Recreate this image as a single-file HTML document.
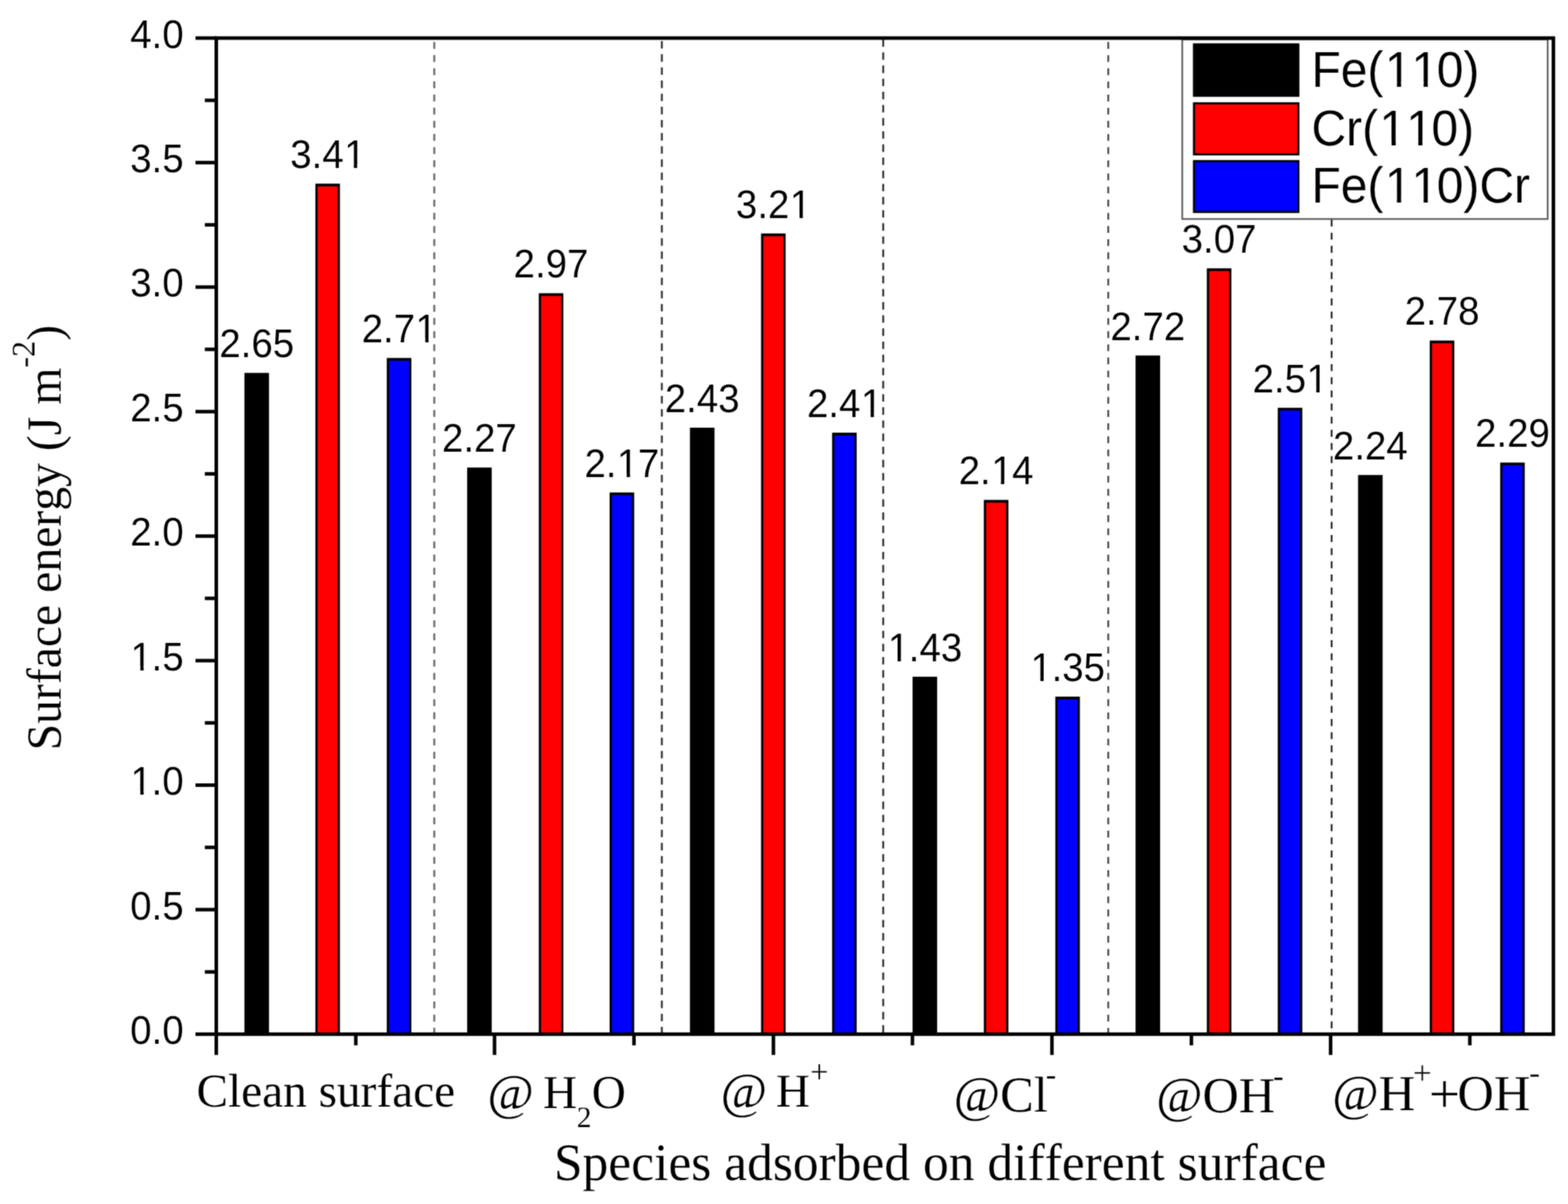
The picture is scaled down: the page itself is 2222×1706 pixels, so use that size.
<!DOCTYPE html>
<html lang="en">
<head>
<meta charset="utf-8">
<title>Surface energy of Fe(110), Cr(110) and Fe(110)Cr with adsorbed species</title>
<style>
html, body { margin: 0; padding: 0; background: #ffffff; }
body { width: 2222px; height: 1706px; overflow: hidden; }
svg { display: block; }
text { white-space: pre; font-kerning: none; font-variant-ligatures: none; text-rendering: geometricPrecision; }
</style>
</head>
<body>
<svg width="2222" height="1706" viewBox="0 0 2222 1706">
<defs><filter id="soft" x="0" y="0" width="2222" height="1706" filterUnits="userSpaceOnUse" color-interpolation-filters="sRGB"><feConvolveMatrix order="3" kernelMatrix="1 2 1 2 6 2 1 2 1" divisor="18" edgeMode="duplicate" preserveAlpha="true"/></filter></defs>
<g filter="url(#soft)">
<rect x="0" y="0" width="2222" height="1706" fill="#ffffff"/>
<text transform="translate(310.76 506.30) scale(1 1.04)" font-family='"Liberation Sans", Arial, Helvetica, sans-serif' font-size="54.5" fill="#000" stroke="#fff" stroke-width="0.1" paint-order="fill stroke">2.65</text>
<text transform="translate(626.36 640.38) scale(1 1.04)" font-family='"Liberation Sans", Arial, Helvetica, sans-serif' font-size="54.5" fill="#000" stroke="#fff" stroke-width="0.1" paint-order="fill stroke">2.27</text>
<text transform="translate(942.06 583.92) scale(1 1.04)" font-family='"Liberation Sans", Arial, Helvetica, sans-serif' font-size="54.5" fill="#000" stroke="#fff" stroke-width="0.1" paint-order="fill stroke">2.43</text>
<text transform="translate(1257.56 936.77) scale(1 1.04)" font-family='"Liberation Sans", Arial, Helvetica, sans-serif' font-size="54.5" fill="#000" stroke="#fff" stroke-width="0.1" paint-order="fill stroke"><tspan dx="0.65">1</tspan><tspan dx="-0.65">.43</tspan></text>
<rect x="1261.23" y="931.24" width="10.74" height="6.53" fill="#fff"/>
<rect x="1276.69" y="931.24" width="10.13" height="6.53" fill="#fff"/>
<text transform="translate(1573.56 481.60) scale(1 1.04)" font-family='"Liberation Sans", Arial, Helvetica, sans-serif' font-size="54.5" fill="#000" stroke="#fff" stroke-width="0.1" paint-order="fill stroke">2.72</text>
<text transform="translate(1888.86 650.97) scale(1 1.04)" font-family='"Liberation Sans", Arial, Helvetica, sans-serif' font-size="54.5" fill="#000" stroke="#fff" stroke-width="0.1" paint-order="fill stroke">2.24</text>
<text transform="translate(411.26 238.13) scale(1 1.04)" font-family='"Liberation Sans", Arial, Helvetica, sans-serif' font-size="54.5" fill="#000" stroke="#fff" stroke-width="0.1" paint-order="fill stroke">3.4<tspan dx="0.65">1</tspan></text>
<rect x="490.70" y="232.60" width="10.74" height="6.53" fill="#fff"/>
<rect x="506.15" y="232.60" width="10.13" height="6.53" fill="#fff"/>
<text transform="translate(727.86 393.39) scale(1 1.04)" font-family='"Liberation Sans", Arial, Helvetica, sans-serif' font-size="54.5" fill="#000" stroke="#fff" stroke-width="0.1" paint-order="fill stroke">2.97</text>
<text transform="translate(1042.86 308.70) scale(1 1.04)" font-family='"Liberation Sans", Arial, Helvetica, sans-serif' font-size="54.5" fill="#000" stroke="#fff" stroke-width="0.1" paint-order="fill stroke">3.2<tspan dx="0.65">1</tspan></text>
<rect x="1122.30" y="303.17" width="10.74" height="6.53" fill="#fff"/>
<rect x="1137.75" y="303.17" width="10.13" height="6.53" fill="#fff"/>
<text transform="translate(1358.56 686.25) scale(1 1.04)" font-family='"Liberation Sans", Arial, Helvetica, sans-serif' font-size="54.5" fill="#000" stroke="#fff" stroke-width="0.1" paint-order="fill stroke">2.<tspan dx="0.65">1</tspan><tspan dx="-0.65">4</tspan></text>
<rect x="1407.68" y="680.72" width="10.74" height="6.53" fill="#fff"/>
<rect x="1423.14" y="680.72" width="10.13" height="6.53" fill="#fff"/>
<text transform="translate(1674.56 358.10) scale(1 1.04)" font-family='"Liberation Sans", Arial, Helvetica, sans-serif' font-size="54.5" fill="#000" stroke="#fff" stroke-width="0.1" paint-order="fill stroke">3.07</text>
<text transform="translate(1990.46 460.43) scale(1 1.04)" font-family='"Liberation Sans", Arial, Helvetica, sans-serif' font-size="54.5" fill="#000" stroke="#fff" stroke-width="0.1" paint-order="fill stroke">2.78</text>
<text transform="translate(512.46 485.13) scale(1 1.04)" font-family='"Liberation Sans", Arial, Helvetica, sans-serif' font-size="54.5" fill="#000" stroke="#fff" stroke-width="0.1" paint-order="fill stroke">2.7<tspan dx="0.65">1</tspan></text>
<rect x="591.90" y="479.59" width="10.74" height="6.53" fill="#fff"/>
<rect x="607.35" y="479.59" width="10.13" height="6.53" fill="#fff"/>
<text transform="translate(828.26 675.67) scale(1 1.04)" font-family='"Liberation Sans", Arial, Helvetica, sans-serif' font-size="54.5" fill="#000" stroke="#fff" stroke-width="0.1" paint-order="fill stroke">2.<tspan dx="0.65">1</tspan><tspan dx="-0.65">7</tspan></text>
<rect x="877.38" y="670.13" width="10.74" height="6.53" fill="#fff"/>
<rect x="892.84" y="670.13" width="10.13" height="6.53" fill="#fff"/>
<text transform="translate(1143.56 590.98) scale(1 1.04)" font-family='"Liberation Sans", Arial, Helvetica, sans-serif' font-size="54.5" fill="#000" stroke="#fff" stroke-width="0.1" paint-order="fill stroke">2.4<tspan dx="0.65">1</tspan></text>
<rect x="1223.00" y="585.45" width="10.74" height="6.53" fill="#fff"/>
<rect x="1238.45" y="585.45" width="10.13" height="6.53" fill="#fff"/>
<text transform="translate(1459.86 965.00) scale(1 1.04)" font-family='"Liberation Sans", Arial, Helvetica, sans-serif' font-size="54.5" fill="#000" stroke="#fff" stroke-width="0.1" paint-order="fill stroke"><tspan dx="0.65">1</tspan><tspan dx="-0.65">.35</tspan></text>
<rect x="1463.53" y="959.47" width="10.74" height="6.53" fill="#fff"/>
<rect x="1478.99" y="959.47" width="10.13" height="6.53" fill="#fff"/>
<text transform="translate(1775.06 555.70) scale(1 1.04)" font-family='"Liberation Sans", Arial, Helvetica, sans-serif' font-size="54.5" fill="#000" stroke="#fff" stroke-width="0.1" paint-order="fill stroke">2.5<tspan dx="0.65">1</tspan></text>
<rect x="1854.50" y="550.16" width="10.74" height="6.53" fill="#fff"/>
<rect x="1869.95" y="550.16" width="10.13" height="6.53" fill="#fff"/>
<text transform="translate(2090.26 633.32) scale(1 1.04)" font-family='"Liberation Sans", Arial, Helvetica, sans-serif' font-size="54.5" fill="#000" stroke="#fff" stroke-width="0.1" paint-order="fill stroke">2.29</text>
<text transform="translate(184.44 1478.95) scale(1 1.04)" font-family='"Liberation Sans", Arial, Helvetica, sans-serif' font-size="54.5" fill="#000" stroke="#fff" stroke-width="0.1" paint-order="fill stroke">0.0</text>
<text transform="translate(184.44 1302.52) scale(1 1.04)" font-family='"Liberation Sans", Arial, Helvetica, sans-serif' font-size="54.5" fill="#000" stroke="#fff" stroke-width="0.1" paint-order="fill stroke">0.5</text>
<text transform="translate(184.44 1126.10) scale(1 1.04)" font-family='"Liberation Sans", Arial, Helvetica, sans-serif' font-size="54.5" fill="#000" stroke="#fff" stroke-width="0.1" paint-order="fill stroke"><tspan dx="0.65">1</tspan><tspan dx="-0.65">.0</tspan></text>
<rect x="188.11" y="1120.57" width="10.74" height="6.53" fill="#fff"/>
<rect x="203.56" y="1120.57" width="10.13" height="6.53" fill="#fff"/>
<text transform="translate(184.44 949.67) scale(1 1.04)" font-family='"Liberation Sans", Arial, Helvetica, sans-serif' font-size="54.5" fill="#000" stroke="#fff" stroke-width="0.1" paint-order="fill stroke"><tspan dx="0.65">1</tspan><tspan dx="-0.65">.5</tspan></text>
<rect x="188.11" y="944.14" width="10.74" height="6.53" fill="#fff"/>
<rect x="203.56" y="944.14" width="10.13" height="6.53" fill="#fff"/>
<text transform="translate(184.44 773.25) scale(1 1.04)" font-family='"Liberation Sans", Arial, Helvetica, sans-serif' font-size="54.5" fill="#000" stroke="#fff" stroke-width="0.1" paint-order="fill stroke">2.0</text>
<text transform="translate(184.44 596.83) scale(1 1.04)" font-family='"Liberation Sans", Arial, Helvetica, sans-serif' font-size="54.5" fill="#000" stroke="#fff" stroke-width="0.1" paint-order="fill stroke">2.5</text>
<text transform="translate(184.44 420.40) scale(1 1.04)" font-family='"Liberation Sans", Arial, Helvetica, sans-serif' font-size="54.5" fill="#000" stroke="#fff" stroke-width="0.1" paint-order="fill stroke">3.0</text>
<text transform="translate(184.44 243.97) scale(1 1.04)" font-family='"Liberation Sans", Arial, Helvetica, sans-serif' font-size="54.5" fill="#000" stroke="#fff" stroke-width="0.1" paint-order="fill stroke">3.5</text>
<text transform="translate(184.44 67.55) scale(1 1.04)" font-family='"Liberation Sans", Arial, Helvetica, sans-serif' font-size="54.5" fill="#000" stroke="#fff" stroke-width="0.1" paint-order="fill stroke">4.0</text>
<line x1="615.4" y1="59.4" x2="615.4" y2="1463.0" stroke="#747474" stroke-width="3.0" stroke-dasharray="9.8 8.825" fill="none"/>
<line x1="937.9" y1="58.2" x2="937.9" y2="1463.0" stroke="#333333" stroke-width="2.7" stroke-dasharray="10.6 8.025" fill="none"/>
<line x1="1251.6" y1="55.6" x2="1251.6" y2="1463.0" stroke="#333333" stroke-width="2.7" stroke-dasharray="10.6 8.025" fill="none"/>
<line x1="1570.5" y1="59.6" x2="1570.5" y2="1463.0" stroke="#484848" stroke-width="2.6" stroke-dasharray="9.6 9.025" fill="none"/>
<line x1="1887.05" y1="311.1" x2="1887.05" y2="1458.0" stroke="#202020" stroke-width="2.5" stroke-dasharray="9.8 8.825" fill="none"/>
<g>
<rect x="346.40" y="528.40" width="34.80" height="936.95" fill="#000"/>
<rect x="662.00" y="662.48" width="34.80" height="802.87" fill="#000"/>
<rect x="977.70" y="606.02" width="34.80" height="859.33" fill="#000"/>
<rect x="1293.20" y="958.87" width="34.80" height="506.48" fill="#000"/>
<rect x="1609.20" y="503.70" width="34.80" height="961.65" fill="#000"/>
<rect x="1924.50" y="673.07" width="34.80" height="792.28" fill="#000"/>
</g>
<g>
<rect x="446.90" y="260.23" width="34.80" height="1205.12" fill="#000"/>
<rect x="450.10" y="264.13" width="28.40" height="1201.22" fill="#ff0000"/>
<rect x="763.50" y="415.49" width="34.80" height="1049.86" fill="#000"/>
<rect x="766.70" y="419.39" width="28.40" height="1045.96" fill="#ff0000"/>
<rect x="1078.50" y="330.80" width="34.80" height="1134.55" fill="#000"/>
<rect x="1081.70" y="334.70" width="28.40" height="1130.65" fill="#ff0000"/>
<rect x="1394.20" y="708.35" width="34.80" height="757.00" fill="#000"/>
<rect x="1397.40" y="712.25" width="28.40" height="753.10" fill="#ff0000"/>
<rect x="1710.20" y="380.20" width="34.80" height="1085.15" fill="#000"/>
<rect x="1713.40" y="384.10" width="28.40" height="1081.25" fill="#ff0000"/>
<rect x="2026.10" y="482.53" width="34.80" height="982.82" fill="#000"/>
<rect x="2029.30" y="486.43" width="28.40" height="978.92" fill="#ff0000"/>
</g>
<g>
<rect x="548.10" y="507.23" width="34.80" height="958.12" fill="#000"/>
<rect x="551.30" y="511.13" width="28.40" height="954.22" fill="#0000ff"/>
<rect x="863.90" y="697.77" width="34.80" height="767.58" fill="#000"/>
<rect x="867.10" y="701.67" width="28.40" height="763.68" fill="#0000ff"/>
<rect x="1179.20" y="613.08" width="34.80" height="852.27" fill="#000"/>
<rect x="1182.40" y="616.98" width="28.40" height="848.37" fill="#0000ff"/>
<rect x="1495.50" y="987.10" width="34.80" height="478.25" fill="#000"/>
<rect x="1498.70" y="991.00" width="28.40" height="474.35" fill="#0000ff"/>
<rect x="1810.70" y="577.80" width="34.80" height="887.55" fill="#000"/>
<rect x="1813.90" y="581.70" width="28.40" height="883.65" fill="#0000ff"/>
<rect x="2125.90" y="655.42" width="34.80" height="809.93" fill="#000"/>
<rect x="2129.10" y="659.32" width="28.40" height="806.03" fill="#0000ff"/>
</g>
<rect x="1675.35" y="56.0" width="517.85" height="254.30" fill="#fff" stroke="#5c5c5c" stroke-width="2.4"/>
<rect x="1690.5" y="61.4" width="150.9" height="75.8" fill="#000"/>
<rect x="1690.5" y="144.9" width="150.9" height="75.3" fill="#000"/>
<rect x="1693.5" y="147.9" width="144.9" height="69.3" fill="#ff0000"/>
<rect x="1690.5" y="226.8" width="150.9" height="75.0" fill="#000"/>
<rect x="1693.5" y="229.8" width="144.9" height="69.0" fill="#0000ff"/>
<text transform="translate(1858.40 122.60) scale(1 1.05)" font-family='"Liberation Sans", Arial, Helvetica, sans-serif' font-size="68.0" fill="#000" stroke="#fff" stroke-width="0.1" paint-order="fill stroke">Fe(<tspan dx="2.04">11</tspan><tspan dx="-2.04">0)</tspan></text>
<rect x="1966.40" y="115.97" width="13.19" height="7.63" fill="#fff"/>
<rect x="1985.50" y="115.97" width="12.42" height="7.63" fill="#fff"/>
<rect x="2004.22" y="115.97" width="13.19" height="7.63" fill="#fff"/>
<rect x="2023.31" y="115.97" width="12.42" height="7.63" fill="#fff"/>
<text transform="translate(1858.40 205.50) scale(1 1.05)" font-family='"Liberation Sans", Arial, Helvetica, sans-serif' font-size="68.0" fill="#000" stroke="#fff" stroke-width="0.1" paint-order="fill stroke">Cr(<tspan dx="2.04">11</tspan><tspan dx="-2.04">0)</tspan></text>
<rect x="1958.80" y="198.87" width="13.19" height="7.63" fill="#fff"/>
<rect x="1977.89" y="198.87" width="12.42" height="7.63" fill="#fff"/>
<rect x="1996.61" y="198.87" width="13.19" height="7.63" fill="#fff"/>
<rect x="2015.71" y="198.87" width="12.42" height="7.63" fill="#fff"/>
<text transform="translate(1858.40 287.40) scale(1 1.05)" font-family='"Liberation Sans", Arial, Helvetica, sans-serif' font-size="68.0" fill="#000" stroke="#fff" stroke-width="0.1" paint-order="fill stroke">Fe(<tspan dx="2.04">11</tspan><tspan dx="-2.04">0)Cr</tspan></text>
<rect x="1966.40" y="280.77" width="13.19" height="7.63" fill="#fff"/>
<rect x="1985.50" y="280.77" width="12.42" height="7.63" fill="#fff"/>
<rect x="2004.22" y="280.77" width="13.19" height="7.63" fill="#fff"/>
<rect x="2023.31" y="280.77" width="12.42" height="7.63" fill="#fff"/>
<g stroke="#000" stroke-width="5.0" fill="none" stroke-linecap="butt">
<rect x="306.5" y="53.95" width="1894.80" height="1411.40"/>
<line x1="277.0" y1="1465.35" x2="306.5" y2="1465.35"/>
<line x1="290.3" y1="1377.14" x2="306.5" y2="1377.14"/>
<line x1="277.0" y1="1288.92" x2="306.5" y2="1288.92"/>
<line x1="290.3" y1="1200.71" x2="306.5" y2="1200.71"/>
<line x1="277.0" y1="1112.50" x2="306.5" y2="1112.50"/>
<line x1="290.3" y1="1024.29" x2="306.5" y2="1024.29"/>
<line x1="277.0" y1="936.07" x2="306.5" y2="936.07"/>
<line x1="290.3" y1="847.86" x2="306.5" y2="847.86"/>
<line x1="277.0" y1="759.65" x2="306.5" y2="759.65"/>
<line x1="290.3" y1="671.44" x2="306.5" y2="671.44"/>
<line x1="277.0" y1="583.23" x2="306.5" y2="583.23"/>
<line x1="290.3" y1="495.01" x2="306.5" y2="495.01"/>
<line x1="277.0" y1="406.80" x2="306.5" y2="406.80"/>
<line x1="290.3" y1="318.59" x2="306.5" y2="318.59"/>
<line x1="277.0" y1="230.38" x2="306.5" y2="230.38"/>
<line x1="290.3" y1="142.16" x2="306.5" y2="142.16"/>
<line x1="277.0" y1="53.95" x2="306.5" y2="53.95"/>
<line x1="306.5" y1="1465.35" x2="306.5" y2="1494.8"/>
<line x1="700.8" y1="1465.35" x2="700.8" y2="1494.8"/>
<line x1="1096.0" y1="1465.35" x2="1096.0" y2="1494.8"/>
<line x1="1490.7" y1="1465.35" x2="1490.7" y2="1494.8"/>
<line x1="1885.6" y1="1465.35" x2="1885.6" y2="1494.8"/>
<line x1="504.2" y1="1465.35" x2="504.2" y2="1481.2"/>
<line x1="898.4" y1="1465.35" x2="898.4" y2="1481.2"/>
<line x1="1293.0" y1="1465.35" x2="1293.0" y2="1481.2"/>
<line x1="1688.3" y1="1465.35" x2="1688.3" y2="1481.2"/>
<line x1="2082.9" y1="1465.35" x2="2082.9" y2="1481.2"/>
</g>
<text font-family='"Liberation Serif", "Times New Roman", Times, serif' fill="#000" stroke="#fff" stroke-width="0.15" paint-order="fill stroke"><tspan x="278.50" y="1567.60" font-size="67">Clean surface</tspan></text>
<text font-family='"Liberation Serif", "Times New Roman", Times, serif' fill="#000" stroke="#fff" stroke-width="0.15" paint-order="fill stroke"><tspan x="690.80" y="1572.00" font-size="71.5">@</tspan><tspan x="752.00" y="1570.20" font-size="67"> </tspan><tspan x="769.60" y="1570.20" font-size="67">H</tspan><tspan x="817.20" y="1596.50" font-size="42">2</tspan><tspan x="838.60" y="1570.20" font-size="67">O</tspan></text>
<text font-family='"Liberation Serif", "Times New Roman", Times, serif' fill="#000" stroke="#fff" stroke-width="0.15" paint-order="fill stroke"><tspan x="1021.30" y="1570.20" font-size="71.5">@</tspan><tspan x="1082.00" y="1567.80" font-size="67"> </tspan><tspan x="1099.60" y="1567.80" font-size="67">H</tspan><tspan x="1148.00" y="1533.70" font-size="46">+</tspan></text>
<text font-family='"Liberation Serif", "Times New Roman", Times, serif' fill="#000" stroke="#fff" stroke-width="0.15" paint-order="fill stroke"><tspan x="1351.50" y="1575.30" font-size="71.5">@Cl</tspan><tspan x="1482.00" y="1536.90" font-size="44">-</tspan></text>
<text font-family='"Liberation Serif", "Times New Roman", Times, serif' fill="#000" stroke="#fff" stroke-width="0.15" paint-order="fill stroke"><tspan x="1638.40" y="1575.50" font-size="71.3">@OH</tspan><tspan x="1804.20" y="1539.20" font-size="44">-</tspan></text>
<text font-family='"Liberation Serif", "Times New Roman", Times, serif' fill="#000" stroke="#fff" stroke-width="0.15" paint-order="fill stroke"><tspan x="1887.90" y="1572.80" font-size="71.5">@H</tspan><tspan x="2002.20" y="1535.70" font-size="47">+</tspan><tspan x="2025.10" y="1575.60" font-size="78">+</tspan><tspan x="2065.30" y="1572.80" font-size="71.5">OH</tspan><tspan x="2166.90" y="1535.30" font-size="46">-</tspan></text>
<text transform="translate(785.00 1671.80) scale(1.0 1.02)" font-family='"Liberation Serif", "Times New Roman", Times, serif' font-size="73" text-anchor="start" fill="#000" stroke="#fff" stroke-width="0.15" paint-order="fill stroke">Species adsorbed on different surface</text>
<text font-family='"Liberation Serif", "Times New Roman", Times, serif' font-size="67.6" fill="#000" stroke="#fff" stroke-width="0.15" paint-order="fill stroke" transform="translate(85.5 1063.3) rotate(-90) scale(1 1.03)">Surface energy (J m<tspan font-size="45.5" dy="-35">-2</tspan><tspan dy="35">)</tspan></text>
</g>
</svg>
</body>
</html>
